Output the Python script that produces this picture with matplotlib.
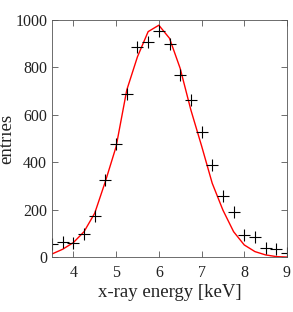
import numpy as np
import matplotlib.pyplot as plt

plt.rcParams['font.family'] = ['Liberation Serif', 'DejaVu Serif']

# measured histogram (x-ray energy bins)
energy = np.arange(3.5, 9.01, 0.25)
entries = [55, 63, 60, 98, 173, 325, 477, 690, 887, 908, 955, 899, 768,
           664, 526, 389, 260, 190, 94, 84, 41, 36, 20]

# fitted model
model = [14, 34, 62, 108, 186, 320, 466, 705, 845, 951, 978, 923, 796,
         621, 470, 312, 199, 108, 52, 24, 10, 3, 1]

fig = plt.figure(figsize=(2.93, 3.12), dpi=100)
ax = fig.add_axes([0.1775, 0.1753, 0.802, 0.7606])

ax.plot(energy, model, color='red', lw=1.0)
ax.plot(energy, entries, ls='none', marker='+', color='black',
        markersize=8, markeredgewidth=0.8)

ax.set_xlim(3.5, 9)
ax.set_ylim(0, 1000)
ax.set_xticks([4, 5, 6, 7, 8, 9])
ax.set_yticks([0, 200, 400, 600, 800, 1000])
ax.set_xlabel('x-ray energy [keV]', fontsize=13.5, color='#222222', labelpad=2.5)
ax.set_ylabel('entries', fontsize=13.5, color='#222222')
ax.yaxis.set_label_coords(-0.155, 0.5)
ax.tick_params(direction='in', top=True, right=True, length=4, width=0.6,
               labelsize=11.5, colors='#222222', color='#555555')
ax.tick_params(axis='x', pad=5.5)
ax.tick_params(axis='y', pad=3.5)
for s in ax.spines.values():
    s.set_linewidth(0.6)
    s.set_color('#555555')

fig.savefig('out.png', dpi=100)
